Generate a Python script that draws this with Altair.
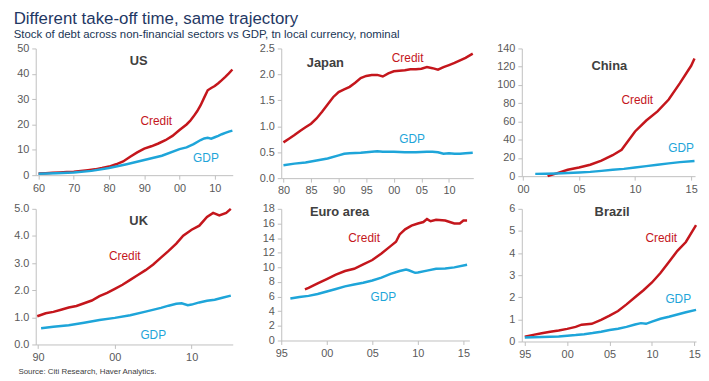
import altair as alt
import pandas as pd

FONT = "Liberation Sans"
RED = "#c4161c"
CYAN = "#1ea5d9"

# ---------------- data ----------------
us_credit_year = [1960, 1962, 1964, 1966, 1968, 1970, 1972, 1974, 1976, 1978, 1980, 1982, 1984, 1986, 1988, 1990,
                  1992, 1994, 1996, 1998, 2000, 2002, 2003, 2004, 2005, 2006, 2007, 2008, 2009, 2010, 2011, 2012,
                  2013, 2014, 2015]
us_credit_val = [0.7, 0.8, 0.95, 1.1, 1.25, 1.4, 1.7, 2.0, 2.3, 2.8, 3.4, 4.3, 5.4, 7.3, 9.0, 10.5,
                 11.4, 12.5, 13.8, 15.5, 17.8, 20.0, 21.4, 23.2, 25.2, 27.6, 30.6, 33.5, 34.4, 35.2, 36.3, 37.5,
                 38.8, 40.2, 41.7]
us_gdp_year = [1960, 1965, 1970, 1975, 1980, 1985, 1990, 1995, 2000, 2002, 2004, 2006, 2007, 2008, 2009, 2010,
               2011, 2012, 2013, 2014, 2015]
us_gdp_val = [0.54, 0.74, 1.08, 1.69, 2.86, 4.34, 5.98, 7.66, 10.28, 10.98, 12.27, 13.86, 14.48, 14.72, 14.42,
              14.96, 15.52, 16.16, 16.69, 17.2, 17.6]

jp_credit_year = [1980, 1981, 1982, 1983, 1984, 1985, 1986, 1987, 1988, 1989, 1990, 1991, 1992, 1993, 1994, 1995,
                  1996, 1997, 1998, 1999, 2000, 2001, 2002, 2003, 2004, 2005, 2006, 2007, 2008, 2009, 2010, 2011,
                  2012, 2013, 2014.3]
jp_credit_val = [0.69, 0.76, 0.83, 0.91, 0.98, 1.05, 1.15, 1.28, 1.42, 1.56, 1.66, 1.71, 1.76, 1.84, 1.93, 1.97,
                 1.99, 1.99, 1.96, 2.02, 2.06, 2.07, 2.08, 2.10, 2.10, 2.11, 2.14, 2.12, 2.09, 2.14, 2.18, 2.22,
                 2.27, 2.32, 2.40]
jp_gdp_year = [1980, 1982, 1984, 1986, 1988, 1990, 1991, 1992, 1994, 1996, 1997, 1998, 2000, 2002, 2004, 2006,
               2007, 2008, 2009, 2010, 2011, 2012, 2013, 2014.3]
jp_gdp_val = [0.25, 0.28, 0.30, 0.34, 0.38, 0.44, 0.47, 0.48, 0.49, 0.51, 0.52, 0.51, 0.51, 0.50, 0.50, 0.51,
              0.51, 0.50, 0.47, 0.48, 0.47, 0.47, 0.48, 0.49]

cn_credit_year = [2002.2, 2003, 2004, 2005, 2006, 2007, 2008, 2008.8, 2010, 2011, 2012, 2013, 2014, 2015, 2015.3]
cn_credit_val = [0, 3, 7, 9.5, 12.5, 17, 23, 29, 49, 61, 71, 84, 102, 121, 129]
cn_gdp_year = [2001.1, 2002, 2003, 2004, 2005, 2006, 2007, 2008, 2009, 2010, 2011, 2012, 2013, 2014, 2015.3]
cn_gdp_val = [2.5, 2.7, 3.0, 3.4, 4.0, 4.7, 5.8, 7.0, 8.0, 9.4, 11.0, 12.5, 14.0, 15.4, 16.7]

uk_credit_year = [1989.9, 1991, 1992, 1993, 1994, 1995, 1996, 1997, 1998, 1999, 2000, 2001, 2002, 2003, 2004,
                  2005, 2006, 2007, 2008, 2008.9, 2010, 2011, 2012, 2012.8, 2013.6, 2014.5, 2015.1]
uk_credit_val = [1.04, 1.15, 1.20, 1.28, 1.36, 1.42, 1.52, 1.62, 1.78, 1.90, 2.05, 2.20, 2.38, 2.56, 2.74,
                 2.95, 3.20, 3.45, 3.72, 4.01, 4.23, 4.38, 4.70, 4.85, 4.76, 4.85, 5.0]
uk_gdp_year = [1990.4, 1992, 1994, 1996, 1998, 2000, 2002, 2004, 2006, 2007, 2008, 2008.7, 2009.5, 2010, 2011,
               2012, 2013, 2014, 2015.1]
uk_gdp_val = [0.60, 0.65, 0.71, 0.80, 0.90, 0.98, 1.08, 1.21, 1.35, 1.43, 1.50, 1.52, 1.45, 1.47, 1.55,
              1.61, 1.65, 1.72, 1.80]

ea_credit_year = [1997.6, 1998, 1999, 2000, 2001, 2002, 2003, 2004, 2005, 2006, 2007, 2007.6, 2008, 2008.6,
                  2009.3, 2010, 2010.6, 2011, 2011.4, 2012, 2013, 2013.5, 2014, 2014.6, 2015, 2015.4]
ea_credit_val = [7.0, 7.2, 7.8, 8.4, 9.0, 9.5, 9.8, 10.4, 11.0, 11.9, 12.9, 13.5, 14.5, 15.2,
                 15.7, 16.0, 16.2, 16.6, 16.3, 16.5, 16.4, 16.2, 16.0, 16.0, 16.4, 16.4]
ea_gdp_year = [1996, 1997, 1998, 1999, 2000, 2001, 2002, 2003, 2004, 2005, 2006, 2007, 2008, 2008.7, 2009,
               2009.7, 2010, 2011, 2012, 2013, 2014, 2015.4]
ea_gdp_val = [5.75, 5.95, 6.1, 6.35, 6.7, 7.05, 7.4, 7.65, 7.9, 8.2, 8.6, 9.1, 9.5, 9.7, 9.6,
              9.25, 9.3, 9.55, 9.8, 9.85, 10.0, 10.35]

br_credit_year = [1995, 1996, 1997, 1998, 1999, 2000, 2001, 2001.7, 2002.9, 2004, 2005, 2006, 2007, 2008, 2009,
                  2010, 2011, 2012, 2013, 2014, 2015.2]
br_credit_val = [0.22, 0.30, 0.37, 0.44, 0.50, 0.57, 0.66, 0.76, 0.80, 0.98, 1.17, 1.38, 1.68, 2.0, 2.32,
                 2.67, 3.1, 3.6, 4.1, 4.5, 5.26]
br_gdp_year = [1995, 1997, 1999, 2000, 2001, 2002, 2003, 2004, 2005, 2006, 2007, 2008, 2008.7, 2009.3, 2010,
               2011, 2012, 2013, 2014, 2015.2]
br_gdp_val = [0.18, 0.20, 0.23, 0.26, 0.29, 0.33, 0.38, 0.44, 0.52, 0.58, 0.66, 0.77, 0.83, 0.80, 0.90,
              1.03, 1.12, 1.22, 1.32, 1.43]

color_scale = alt.Scale(domain=["Credit", "GDP"], range=[RED, CYAN])


def panel(name, cy, cv, gy, gv, xdom, xvals, ydom, yvals, yfmt, w, h,
          title_pos, credit_pos, gdp_pos, source=None):
    df = pd.DataFrame({
        "year": list(cy) + list(gy),
        "value": list(cv) + list(gv),
        "series": ["Credit"] * len(cy) + ["GDP"] * len(gy),
    })
    xaxis = dict(values=xvals, labelExpr="substring(toString(datum.value), 2, 4)",
                 labelOverlap=False, labelFlush=False)
    if source:
        xaxis.update(title=source, titleX=-18, titleY=27, titleAlign="left", titleBaseline="middle",
                     titleFontSize=8, titleFontWeight="normal", titleColor="#404040", titleFont=FONT,
                     titleAngle=0)
    else:
        xaxis["title"] = None
    x = alt.X("year:Q", scale=alt.Scale(domain=xdom, nice=False, zero=False), axis=alt.Axis(**xaxis))
    y = alt.Y("value:Q", scale=alt.Scale(domain=ydom, nice=False, zero=False),
              axis=alt.Axis(values=yvals, format=yfmt, title=None, labelOverlap=False, labelFlush=False))
    color = alt.Color("series:N", scale=color_scale, legend=None)
    lines = alt.Chart(df).mark_line(strokeWidth=2.5).encode(x=x, y=y, color=color)
    labs = pd.DataFrame({
        "year": [credit_pos[0], gdp_pos[0]],
        "value": [credit_pos[1], gdp_pos[1]],
        "series": ["Credit", "GDP"],
    })
    labels = alt.Chart(labs).mark_text(fontSize=12, font=FONT).encode(
        x=x, y=y, text="series:N", color=color)
    tdf = pd.DataFrame({"year": [title_pos[0]], "value": [title_pos[1]], "name": [name]})
    title = alt.Chart(tdf).mark_text(fontSize=13, font=FONT, fontWeight="bold", color="#404040").encode(
        x=x, y=y, text="name:N")
    return alt.layer(lines, labels, title).properties(width=w, height=h)


us = panel("US", us_credit_year, us_credit_val, us_gdp_year, us_gdp_val,
           [1959.2, 2015.1], [1960, 1970, 1980, 1990, 2000, 2010], [0, 50], [0, 10, 20, 30, 40, 50], "d",
           199, 128, (1988.4, 45.0), (1993.4, 21.4), (2007.5, 6.7))
jp = panel("Japan", jp_credit_year, jp_credit_val, jp_gdp_year, jp_gdp_val,
           [1979.6, 2014.4], [1980, 1985, 1990, 1995, 2000, 2005, 2010], [0, 2.5],
           [0, 0.5, 1.0, 1.5, 2.0, 2.5], ".1f",
           194, 131, (1987.6, 2.22), (2002.5, 2.31), (2003.3, 0.76))
cn = panel("China", cn_credit_year, cn_credit_val, cn_gdp_year, cn_gdp_val,
           [1999.9, 2015.35], [2000, 2005, 2010, 2015], [0, 140], [0, 20, 40, 60, 80, 100, 120, 140], "d",
           175, 129, (2007.7, 120.5), (2010.2, 83.6), (2014.1, 30.4))
uk = panel("UK", uk_credit_year, uk_credit_val, uk_gdp_year, uk_gdp_val,
           [1989.7, 2015.35], [1990, 2000, 2010], [0, 5], [0, 1, 2, 3, 4, 5], ".1f",
           199, 137, (2003.1, 4.54), (2001.3, 3.25), (2005.0, 0.36),
           source="Source: Citi Research, Haver Analytics.")
ea = panel("Euro area", ea_credit_year, ea_credit_val, ea_gdp_year, ea_gdp_val,
           [1995, 2015.65], [1995, 2000, 2005, 2010, 2015], [0, 18], [0, 2, 4, 6, 8, 10, 12, 14, 16, 18], "d",
           190, 133, (2001.4, 17.6), (2004.1, 14.0), (2006.2, 5.95))
br = panel("Brazil", br_credit_year, br_credit_val, br_gdp_year, br_gdp_val,
           [1994.65, 2015.2], [1995, 2000, 2005, 2010, 2015], [0, 6], [0, 1, 2, 3, 4, 5, 6], "d",
           176, 134, (2005.3, 5.85), (2011.1, 4.7), (2013.1, 1.9))

chart = alt.ConcatChart(
    concat=[us, jp, cn, uk, ea, br],
    columns=3,
    spacing={"row": 31, "column": 49},
    align={"row": "none", "column": "each"},
    bounds="flush",
).properties(
    title=alt.TitleParams(
        text="Different take-off time, same trajectory",
        subtitle="Stock of debt across non-financial sectors vs GDP, tn local currency, nominal",
        anchor="start", frame="bounds", font=FONT, fontSize=17, fontWeight="normal", color="#1f3864",
        subtitleFont=FONT, subtitleFontSize=11.5, subtitleColor="#203656", subtitlePadding=1, offset=1,
    ),
    padding={"left": 5, "top": 0, "right": 0, "bottom": 0},
).configure_axis(
    domainColor="#bfbfbf", tickColor="#bfbfbf", tickSize=4, labelColor="#595959", labelFontSize=11,
    labelFont=FONT, grid=False, labelPadding=3,
).configure_view(stroke=None)

chart.save("out.html", embed_options={"renderer": "svg", "actions": False})
